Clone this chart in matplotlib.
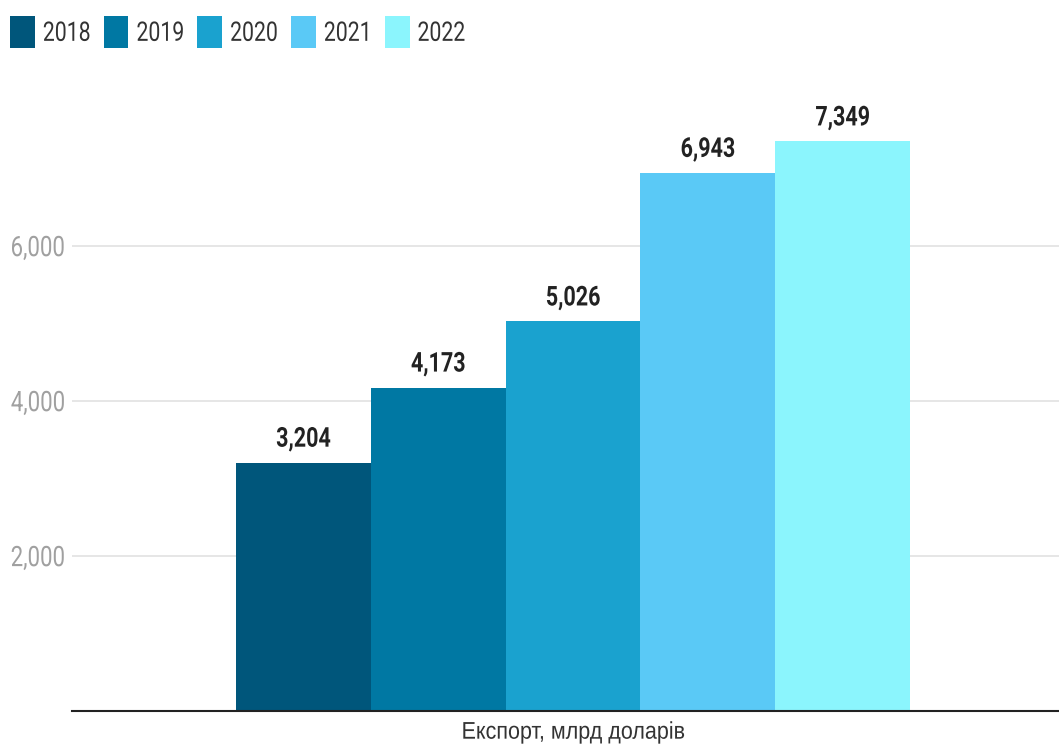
import matplotlib
matplotlib.use('Agg')
import matplotlib.pyplot as plt
from matplotlib.patches import Patch
from matplotlib.patheffects import AbstractPathEffect
from matplotlib.transforms import Affine2D
from matplotlib.ticker import FuncFormatter

# Export volumes by year, bln USD
years = ['2018', '2019', '2020', '2021', '2022']
values = [3204, 4173, 5026, 6943, 7349]
colors = ['#00567b', '#0078a3', '#1aa2cf', '#5ac9f6', '#8bf5fd']
category = 'Експорт, млрд доларів'
yticks = [2000, 4000, 6000]


class Stretch(AbstractPathEffect):
    """Draw text glyphs stretched vertically around a pivot (font units)."""

    def __init__(self, sy=1.27, pivot=0.0):
        super().__init__()
        self.sy = sy
        self.pivot = pivot

    def draw_path(self, renderer, gc, tpath, affine, rgbFace=None):
        pre = Affine2D().translate(0, -self.pivot).scale(1, self.sy).translate(0, self.pivot)
        renderer.draw_path(gc, tpath, pre + affine, rgbFace)


SY = 1.27
font = ['Roboto', 'DejaVu Sans']

fig = plt.figure(figsize=(10.59, 7.51), dpi=100)
ax = fig.add_axes([0.068, 0.0533, 0.932, 0.8256])

x = list(range(len(years)))
ax.bar(x, values, width=1.0, color=colors, zorder=3)
for xi, v in zip(x, values):
    ax.annotate(f'{v:,}', (xi, v), xytext=(0, 11.5), textcoords='offset points',
                ha='center', va='baseline', fontsize=15.5, fontweight='bold',
                color='#222222', family=font, path_effects=[Stretch(SY, 0)])

ax.set_xlim(-1.717, 5.605)
ax.set_ylim(0, 8000)
ax.set_yticks(yticks)
ax.yaxis.set_major_formatter(FuncFormatter(lambda v, p: f'{int(v):,}'))
ax.grid(axis='y', color='#e2e2e2', linewidth=1.2, zorder=0)
ax.tick_params(axis='y', length=0, pad=5, labelsize=16, labelcolor='#a0a0a0')
for lab in ax.get_yticklabels():
    lab.set_family(font)
    lab.set_path_effects([Stretch(SY, 36)])

ax.set_xticks([2])
ax.set_xticklabels([category], fontsize=15.5, color='#333333', family='Liberation Sans')
ax.tick_params(axis='x', length=0, pad=7)
for lab in ax.get_xticklabels():
    lab.set_path_effects([Stretch(1.12, 72)])

for s in ['top', 'right', 'left']:
    ax.spines[s].set_visible(False)
ax.spines['bottom'].set_color('#222222')
ax.spines['bottom'].set_linewidth(1.5)
ax.spines['bottom'].set_zorder(4)

handles = [Patch(facecolor=c, edgecolor='none') for c in colors]
leg = fig.legend(handles, years, ncol=5, loc='upper left',
                 bbox_to_anchor=(10 / 1059, 1 - 16 / 751), frameon=False,
                 prop={'family': font, 'size': 15.3},
                 handlelength=1.17, handleheight=1.94, handletextpad=0.375,
                 columnspacing=0.62, borderaxespad=0, borderpad=0)
for t in leg.get_texts():
    t.set_color('#333333')
    t.set_path_effects([Stretch(SY, 36)])

fig.savefig('out.png', dpi=100)
